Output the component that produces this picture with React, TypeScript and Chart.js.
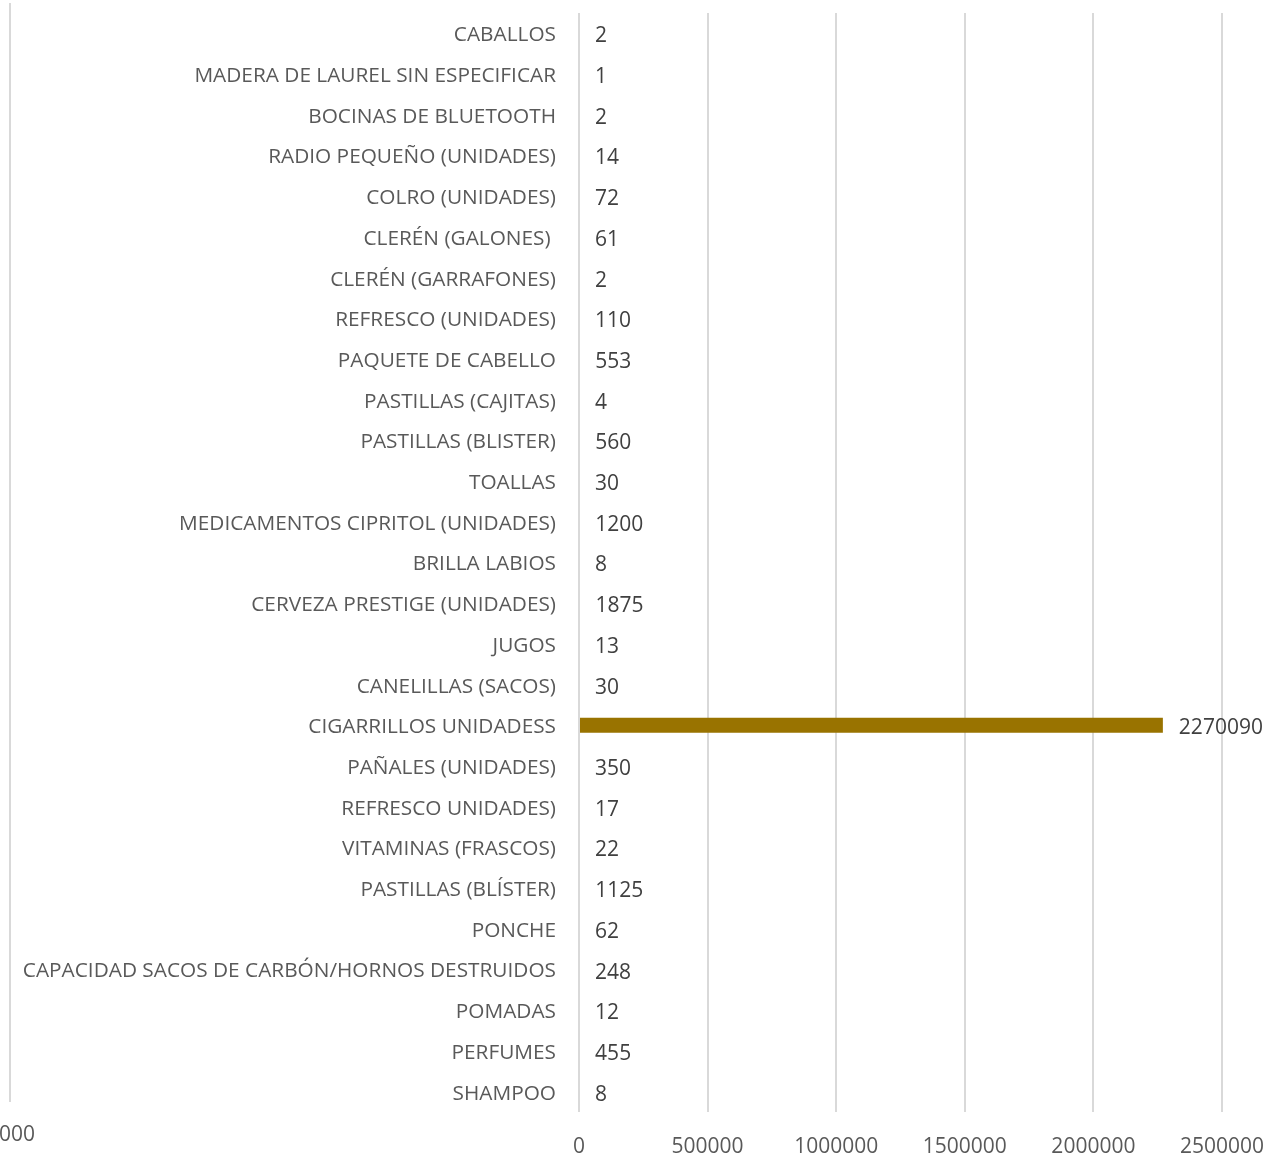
import React, { useEffect, useRef } from "react";
import { Chart, registerables } from "chart.js";

Chart.register(...registerables);

const categories = [
  "CABALLOS",
  "MADERA DE LAUREL SIN ESPECIFICAR",
  "BOCINAS DE BLUETOOTH",
  "RADIO PEQUEÑO (UNIDADES)",
  "COLRO (UNIDADES)",
  "CLERÉN (GALONES) ",
  "CLERÉN (GARRAFONES)",
  "REFRESCO (UNIDADES)",
  "PAQUETE DE CABELLO",
  "PASTILLAS (CAJITAS)",
  "PASTILLAS (BLISTER)",
  "TOALLAS",
  "MEDICAMENTOS CIPRITOL (UNIDADES)",
  "BRILLA LABIOS",
  "CERVEZA PRESTIGE (UNIDADES)",
  "JUGOS",
  "CANELILLAS (SACOS)",
  "CIGARRILLOS UNIDADESS",
  "PAÑALES (UNIDADES)",
  "REFRESCO UNIDADES)",
  "VITAMINAS (FRASCOS)",
  "PASTILLAS (BLÍSTER)",
  "PONCHE",
  "CAPACIDAD SACOS DE CARBÓN/HORNOS DESTRUIDOS",
  "POMADAS",
  "PERFUMES",
  "SHAMPOO",
];

const values = [
  2, 1, 2, 14, 72, 61, 2, 110, 553, 4, 560, 30, 1200, 8, 1875, 13, 30, 2270090,
  350, 17, 22, 1125, 62, 248, 12, 455, 8,
];

const xTickMax = 2500000;
const xTickStep = 500000;
const strayTickText = "000";

const FONT = "'Open Sans', sans-serif";
const TEXT = "#595959";
const GRID = "#d9d9d9";
const FS = 21;
const FS_Y = 20.8;

const valueLabelPlugin = {
  id: "valueLabels",
  afterDatasetsDraw(chart: any) {
    const ctx = chart.ctx;
    const { top, bottom } = chart.chartArea;
    const x0 = Math.round(chart.scales.x.getPixelForValue(0));
    ctx.save();
    // zero axis line, drawn on top of the bar stubs
    ctx.strokeStyle = GRID;
    ctx.lineWidth = 2;
    ctx.beginPath();
    ctx.moveTo(x0, top);
    ctx.lineTo(x0, bottom);
    ctx.stroke();
    const meta = chart.getDatasetMeta(0);
    ctx.font = `${FS}px ${FONT}`;
    ctx.fillStyle = "#404040";
    ctx.textAlign = "left";
    ctx.textBaseline = "middle";
    meta.data.forEach((bar: any, i: number) => {
      ctx.fillText(String(values[i]), bar.x + 16, bar.y + 3);
    });
    ctx.restore();
  },
};

const strayAxisPlugin = {
  id: "strayAxis",
  beforeDatasetsDraw(chart: any) {
    const ctx = chart.ctx;
    const { top, bottom } = chart.chartArea;
    ctx.save();
    ctx.strokeStyle = GRID;
    ctx.lineWidth = 2;
    ctx.beginPath();
    ctx.moveTo(10, top - 10);
    ctx.lineTo(10, bottom - 10);
    ctx.stroke();
    ctx.font = `${FS}px ${FONT}`;
    ctx.fillStyle = TEXT;
    ctx.textAlign = "right";
    ctx.textBaseline = "middle";
    ctx.fillText(strayTickText, 35, bottom + 23);
    ctx.restore();
  },
};

export default function App() {
  const ref = useRef<HTMLCanvasElement>(null);
  useEffect(() => {
    document.body.style.margin = "0";
    const chart = new Chart(ref.current!, {
      type: "bar",
      data: {
        labels: categories,
        datasets: [
          {
            data: values,
            backgroundColor: "#997300",
            barThickness: 15,
            inflateAmount: 0,
          },
        ],
      },
      plugins: [strayAxisPlugin, valueLabelPlugin],
      options: {
        indexAxis: "y",
        responsive: false,
        animation: false,
        layout: { padding: { top: 13, right: 59, bottom: 0, left: 0 } },
        plugins: { legend: { display: false }, tooltip: { enabled: false } },
        scales: {
          x: {
            min: 0,
            max: xTickMax,
            ticks: {
              stepSize: xTickStep,
              color: TEXT,
              font: { family: FONT, size: FS },
              padding: 22,
              maxRotation: 0,
              callback: (v: any) => String(v),
            },
            grid: { color: GRID, lineWidth: 2, drawTicks: false },
            border: { display: false },
            afterFit: (scale: any) => {
              scale.height = 42;
              scale.paddingLeft = 0;
              scale.paddingRight = 0;
            },
          },
          y: {
            ticks: {
              color: TEXT,
              font: { family: FONT, size: FS_Y },
              padding: 23,
              labelOffset: 2,
              autoSkip: false,
            },
            grid: { display: false, drawTicks: false },
            border: { display: false },
            afterFit: (scale: any) => {
              scale.width = 579;
              scale.paddingTop = 0;
              scale.paddingBottom = 0;
            },
          },
        },
      },
    });
    return () => chart.destroy();
  }, []);
  return (
    <div style={{ width: 1281, height: 1154, background: "#fff" }}>
      <canvas ref={ref} width={1281} height={1154} style={{ display: "block" }} />
    </div>
  );
}
